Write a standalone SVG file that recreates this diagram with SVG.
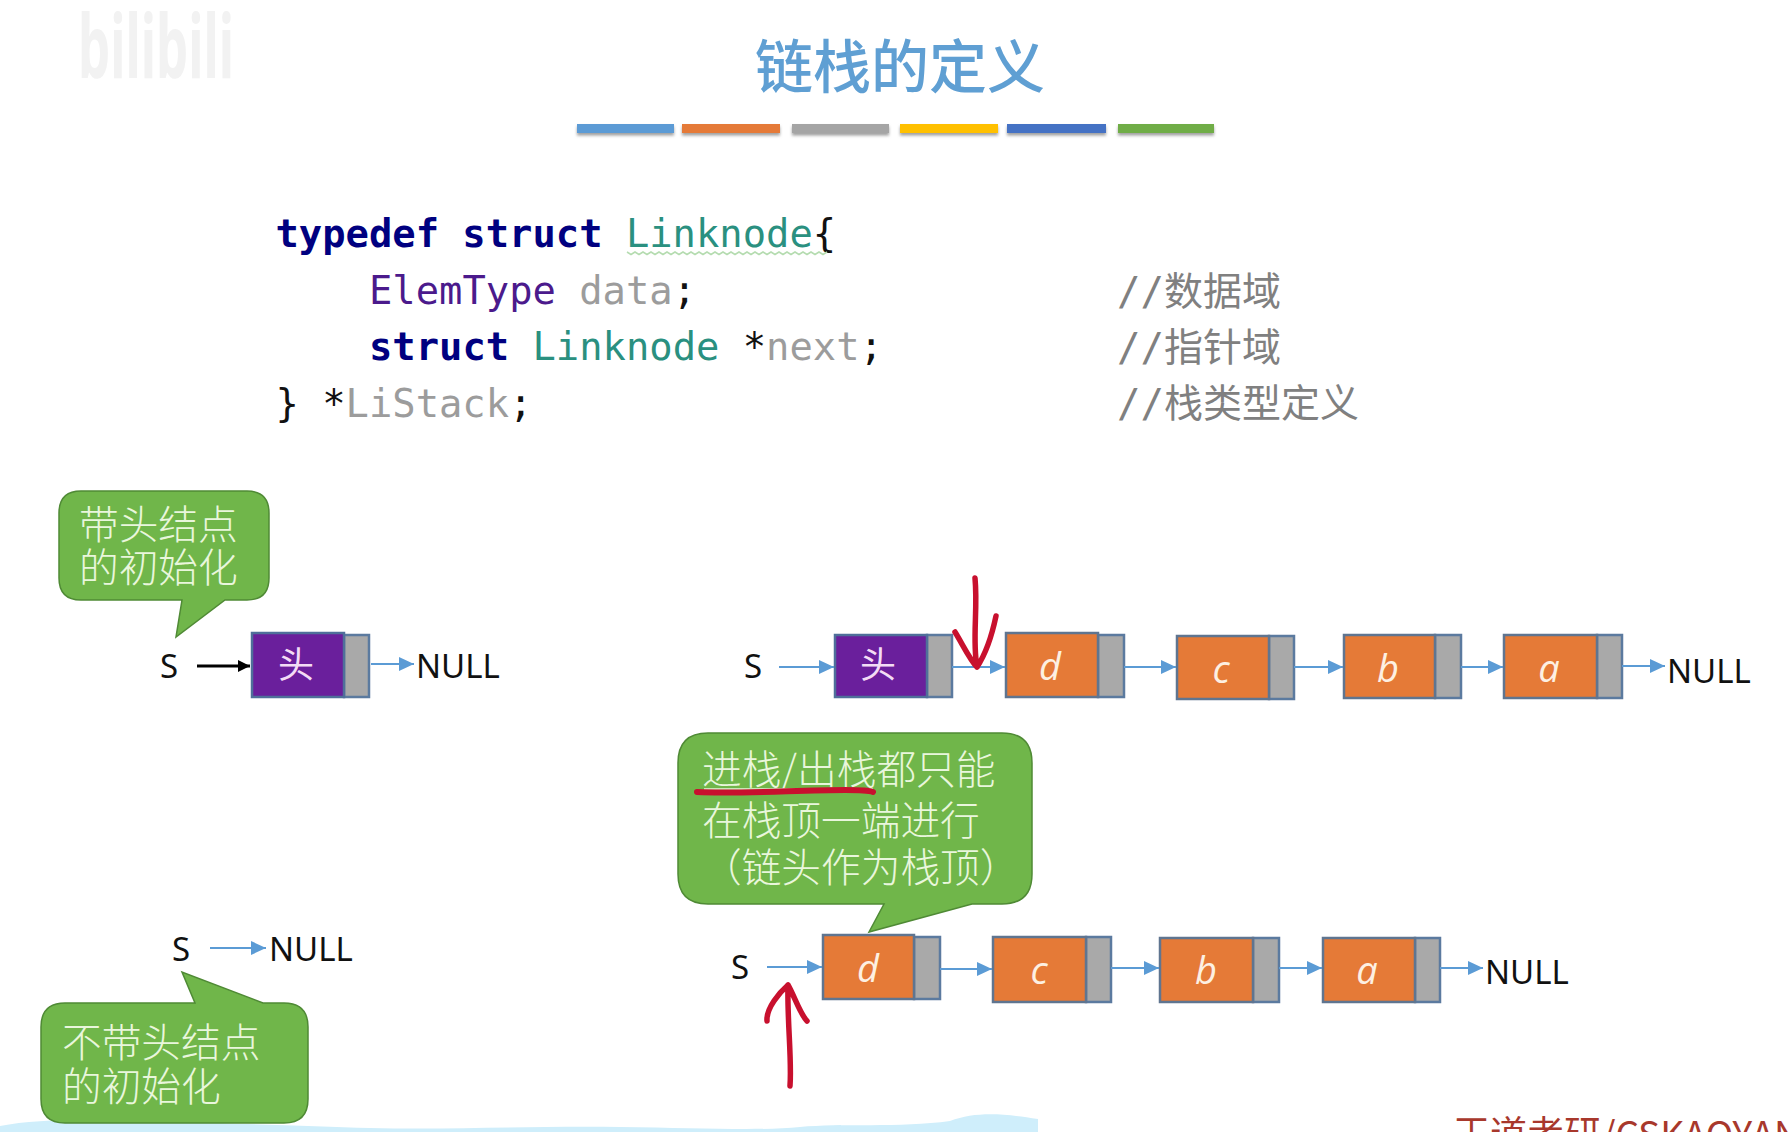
<svg xmlns="http://www.w3.org/2000/svg" width="1792" height="1132" viewBox="0 0 1792 1132">
<style>
text{font-family:"Noto Sans","Noto Sans CJK SC",sans-serif}
.cjk{font-family:"Noto Sans CJK SC",sans-serif}
.code{font-family:"DejaVu Sans Mono","Noto Sans CJK SC",monospace;font-size:38.8px}
.kw{fill:#000080;font-weight:bold}
.ty{fill:#2a9080}
.et{fill:#4b1a8c}
.gr{fill:#9c9c9c}
.pu{fill:#111}
.cm{font-size:39px;fill:#808080}
.lab{font-size:33px;fill:#111}
.call{fill:#70b64a;stroke:#4f8a35;stroke-width:1.5}
.ct{font-family:"Noto Sans CJK SC",sans-serif;font-size:39.7px;fill:#e9f6dc;font-weight:300}
.main{fill:#e57a37;stroke:#5f7590;stroke-width:2.5}
.head{fill:#6a1f9c;stroke:#4f6f9a;stroke-width:2.5}
.ptr{fill:#a9a9a9;stroke:#5b7a9f;stroke-width:2.5}
.nt{font-family:"Open Sans",sans-serif;font-style:italic;font-size:38px;fill:#fdf0e2;text-anchor:middle}
.ht{font-family:"Noto Sans CJK SC",sans-serif;font-size:36px;fill:#f3dcf5;text-anchor:middle}
.a{stroke:#5b9bd5;stroke-width:2;fill:none;marker-end:url(#ab)}
.k{stroke:#000;stroke-width:3;fill:none;marker-end:url(#ak)}
.red{stroke:#c8102e;stroke-width:5.500;fill:none;stroke-linecap:round;stroke-linejoin:round}
</style>
<defs>
<marker id="ab" markerUnits="userSpaceOnUse" markerWidth="16" markerHeight="14" refX="15" refY="7" orient="auto"><path d="M0 0L15 7L0 14Z" fill="#5b9bd5"/></marker>
<marker id="ak" markerUnits="userSpaceOnUse" markerWidth="13" markerHeight="12" refX="12" refY="6" orient="auto"><path d="M0 0L12 6L0 12Z" fill="#000"/></marker>
<filter id="sh" x="-5%" y="-40%" width="110%" height="200%"><feDropShadow dx="0" dy="2.5" stdDeviation="1.5" flood-color="#777" flood-opacity=".7"/></filter>
</defs>
<rect width="1792" height="1132" fill="#fff"/>
<path id="wave" d="M0 1126C30 1120 70 1119 120 1120C200 1122 300 1126 370 1128C450 1130 520 1126 620 1127C700 1128 760 1131 800 1127C840 1123 900 1128 950 1121C975 1112 1000 1113 1038 1119V1132H0Z" fill="#cfeefb"/>
<g id="watermark">
<text x="78" y="78" font-size="88" font-weight="bold" fill="#f2f2f2" textLength="156" lengthAdjust="spacingAndGlyphs">bilibili</text>
</g>
<g id="title">
<text class="cjk" x="900" y="88" font-size="58" font-weight="500" fill="#5f9fd3" text-anchor="middle">链栈的定义</text>
<g filter="url(#sh)">
<rect x="577" y="124" width="97" height="9" fill="#5b9bd5"/>
<rect x="682" y="124" width="98" height="9" fill="#e57a37"/>
<rect x="792" y="124" width="97" height="9" fill="#a5a5a5"/>
<rect x="900" y="124" width="98" height="9" fill="#ffc000"/>
<rect x="1007" y="124" width="99" height="9" fill="#4472c4"/>
<rect x="1118" y="124" width="96" height="9" fill="#70ad47"/>
</g>
</g>
<g id="code">
<text class="code" x="275.500" y="247" xml:space="preserve"><tspan class="kw">typedef struct</tspan> <tspan class="ty">Linknode</tspan><tspan class="pu">{</tspan></text>
<path d="M627 252l4 2.500 4-2.500 4 2.500 4-2.500 4 2.500 4-2.500 4 2.500 4-2.500 4 2.500 4-2.500 4 2.500 4-2.500 4 2.500 4-2.500 4 2.500 4-2.500 4 2.500 4-2.500 4 2.500 4-2.500 4 2.500 4-2.500 4 2.500 4-2.500 4 2.500 4-2.500 4 2.500 4-2.500 4 2.500 4-2.500 4 2.500 4-2.500 4 2.500 4-2.500 4 2.500 4-2.500 4 2.500 4-2.500 4 2.500 4-2.500 4 2.500 4-2.500 4 2.500 4-2.500 4 2.500 4-2.500 4 2.500 4-2.500 4 2.500 4-2.500" fill="none" stroke="#b5dcb0" stroke-width="1.500"/>
<text class="code" x="369" y="304" xml:space="preserve"><tspan class="et">ElemType</tspan> <tspan class="gr">data</tspan><tspan class="pu">;</tspan></text>
<text class="code" x="369" y="360" xml:space="preserve"><tspan class="kw">struct</tspan> <tspan class="ty">Linknode</tspan> <tspan class="pu">*</tspan><tspan class="gr">next</tspan><tspan class="pu">;</tspan></text>
<text class="code" x="275.500" y="417" xml:space="preserve"><tspan class="pu">} *</tspan><tspan class="gr">LiStack</tspan><tspan class="pu">;</tspan></text>
<text class="code cm" x="1117" y="305">//数据域</text>
<text class="code cm" x="1117" y="361">//指针域</text>
<text class="code cm" x="1117" y="417">//栈类型定义</text>
</g>
<g id="callout-head">
<path class="call" d="M81 491H247Q269 491 269 513V578Q269 600 247 600H225L176 637L182 600H81Q59 600 59 578V513Q59 491 81 491Z"/>
<text class="ct" x="79" y="539">带头结点</text>
<text class="ct" x="79" y="582">的初始化</text>
</g>
<g id="callout-nohead">
<path class="call" d="M65 1003H195L182 972L263 1003H284Q308 1003 308 1027V1099Q308 1123 284 1123H65Q41 1123 41 1099V1027Q41 1003 65 1003Z"/>
<text class="ct" x="62" y="1057">不带头结点</text>
<text class="ct" x="62" y="1101">的初始化</text>
</g>
<g id="callout-top">
<path class="call" d="M708 733H1002Q1032 733 1032 763V874Q1032 904 1002 904H972L869 932L884 904H708Q678 904 678 874V763Q678 733 708 733Z"/>
<text class="ct" x="702" y="784">进栈/出栈都只能</text>
<line x1="704" y1="789" x2="873" y2="789" stroke="#e9f6dc" stroke-width="1.500"/>
<text class="ct" x="702" y="835">在栈顶一端进行</text>
<text class="ct" x="702" y="882">（链头作为栈顶）</text>
</g>
<g id="list-empty-head">
<text class="lab" x="160" y="678">S</text>
<rect class="ptr" x="344" y="635" width="25" height="62"/>
<rect class="head" x="252" y="633" width="92" height="64"/>
<text class="ht" x="296" y="678">头</text>
<text class="lab" x="416" y="678">NULL</text>
</g>
<g id="list-empty-nohead">
<text class="lab" x="172" y="961">S</text>
<text class="lab" x="269" y="961">NULL</text>
</g>
<g id="list-head-S"><text class="lab" x="744" y="678">S</text></g>
<g id="node-head">
<rect class="ptr" x="927" y="635" width="25" height="62"/>
<rect class="head" x="835" y="635" width="92" height="62"/>
<text class="ht" x="878" y="678">头</text>
</g>
<g id="node-d1">
<rect class="ptr" x="1098" y="635" width="26" height="62"/>
<rect class="main" x="1006" y="633" width="92" height="64"/>
<text class="nt" x="1050" y="680">d</text>
</g>
<g id="node-c1">
<rect class="ptr" x="1269" y="636" width="25" height="63"/>
<rect class="main" x="1177" y="636" width="92" height="63"/>
<text class="nt" x="1221" y="683">c</text>
</g>
<g id="node-b1">
<rect class="ptr" x="1435" y="635" width="26" height="63"/>
<rect class="main" x="1344" y="635" width="91" height="63"/>
<text class="nt" x="1388" y="682">b</text>
</g>
<g id="node-a1">
<rect class="ptr" x="1597" y="635" width="25" height="63"/>
<rect class="main" x="1504" y="635" width="93" height="63"/>
<text class="nt" x="1549" y="682">a</text>
</g>
<g id="null-1"><text class="lab" x="1667" y="683">NULL</text></g>
<g id="list-nohead-S"><text class="lab" x="731" y="979">S</text></g>
<g id="node-d2">
<rect class="ptr" x="914" y="937" width="26" height="62"/>
<rect class="main" x="823" y="935" width="91" height="64"/>
<text class="nt" x="868" y="982">d</text>
</g>
<g id="node-c2">
<rect class="ptr" x="1086" y="937" width="25" height="65"/>
<rect class="main" x="993" y="937" width="93" height="65"/>
<text class="nt" x="1039" y="984">c</text>
</g>
<g id="node-b2">
<rect class="ptr" x="1253" y="938" width="26" height="64"/>
<rect class="main" x="1160" y="938" width="93" height="64"/>
<text class="nt" x="1206" y="984">b</text>
</g>
<g id="node-a2">
<rect class="ptr" x="1415" y="938" width="25" height="64"/>
<rect class="main" x="1323" y="938" width="92" height="64"/>
<text class="nt" x="1367" y="984">a</text>
</g>
<g id="null-2"><text class="lab" x="1485" y="984">NULL</text></g>
<g id="connectors">
<path class="k" d="M197 666H250"/>
<path class="a" d="M371 664H414"/>
<path class="a" d="M210 948H266"/>
<path class="a" d="M779 667H834"/>
<path class="a" d="M952 667H1005"/>
<path class="a" d="M1124 667H1176"/>
<path class="a" d="M1294 667H1343"/>
<path class="a" d="M1461 667H1503"/>
<path class="a" d="M1622 666H1665"/>
<path class="a" d="M767 967H822"/>
<path class="a" d="M940 969H992"/>
<path class="a" d="M1111 968H1159"/>
<path class="a" d="M1279 968H1322"/>
<path class="a" d="M1440 968H1483"/>
</g>
<g id="annotations">
<path class="red" d="M975 578C978 610 972 640 977 667M955 632C963 645 970 660 977 667C985 655 992 635 996 616"/>
<path class="red" d="M790 1086C792 1060 787 1020 788 985M767 1021C766 1008 780 992 788 985C794 995 800 1014 807 1021"/>
<path class="red" style="stroke-width:6" d="M697 792C740 794 800 790 845 790C855 790 868 790 873 792"/>
</g>
<g id="footer">
<text class="cjk" x="1453" y="1148" font-size="37" fill="#a8382c">王道考研/CSKAOYAN</text>
</g>
</svg>
